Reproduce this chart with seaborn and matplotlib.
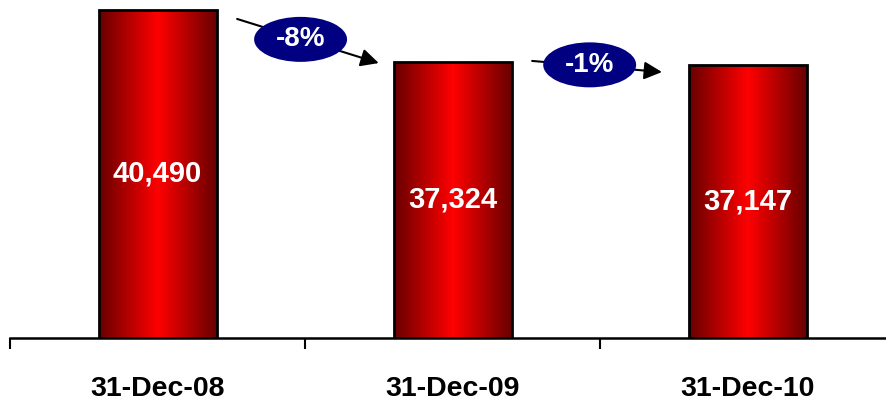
import numpy as np
import pandas as pd
import matplotlib
matplotlib.use("Agg")
import matplotlib.pyplot as plt
import seaborn as sns
from matplotlib.colors import LinearSegmentedColormap
from matplotlib.patches import Ellipse

# Year-end values
dates = ["31-Dec-08", "31-Dec-09", "31-Dec-10"]
values = [40490, 37324, 37147]
value_labels = ["40,490", "37,324", "37,147"]
changes = ["-8%", "-1%"]

sns.set_theme(style="white")
plt.rcParams["font.family"] = ["Liberation Sans", "DejaVu Sans"]

df = pd.DataFrame({"date": dates, "value": values})

fig = plt.figure(figsize=(8.87, 4.01), dpi=100)
ax = fig.add_axes([10 / 887, (401 - 338) / 401, 885 / 887, 338 / 401])

sns.barplot(data=df, x="date", y="value", width=0.40, color="red",
            edgecolor="black", linewidth=2, ax=ax, zorder=2)

y_min, y_max = 20500, 41085
ax.set_ylim(y_min, y_max)
ax.set_xlim(-0.5, 2.5)

# Horizontal dark-bright-dark shading inside each bar
shade = LinearSegmentedColormap.from_list("shade", ["#680000", "#ff0000", "#680000"])
grad = np.linspace(0, 1, 256).reshape(1, -1)
for patch in ax.patches:
    x0, w = patch.get_x(), patch.get_width()
    y0, h = patch.get_y(), patch.get_height()
    im = ax.imshow(grad, cmap=shade, aspect="auto", extent=(x0, x0 + w, y_min, y0 + h),
                   zorder=2.5, interpolation="bilinear")
    im.set_clip_path(patch)
    patch.set_facecolor("none")
    patch.set_zorder(3)

# Value labels centred in the visible part of each bar
for i, (v, lab) in enumerate(zip(values, value_labels)):
    ax.text(i, (y_min + v) / 2, lab, ha="center", va="center", color="white",
            fontsize=21, fontweight="bold", zorder=5)

# Change badges with arrows between bars
ell_w, ell_h = 0.315, 2740
arrow_ends = [((0.27, values[0] - 560), (0.75, values[1] - 80)),
              ((1.27, values[1] + 50), (1.71, values[2] - 450))]
for lab, (start, end) in zip(changes, arrow_ends):
    ax.annotate("", xy=end, xytext=start,
                arrowprops=dict(arrowstyle="-|>,head_length=0.9,head_width=0.45",
                                color="black", lw=1.5, shrinkA=0, shrinkB=0),
                zorder=6, annotation_clip=False)
    cx = (start[0] + end[0]) / 2 - 0.025
    cy = (start[1] + end[1]) / 2 + 100
    ax.add_patch(Ellipse((cx, cy), ell_w, ell_h, facecolor="#000080",
                         edgecolor="none", zorder=7, clip_on=False))
    ax.text(cx, cy, lab, ha="center", va="center", color="white",
            fontsize=20, fontweight="bold", zorder=8)

# Axis styling: only the base line with boundary ticks
for s in ["top", "right", "left"]:
    ax.spines[s].set_visible(False)
ax.spines["bottom"].set_color("black")
ax.spines["bottom"].set_linewidth(1.8)
ax.set_yticks([])
ax.set_xlabel("")
ax.set_ylabel("")
ax.set_xticks([0, 1, 2])
ax.set_xticklabels(dates, fontsize=20.5, fontweight="bold", color="black")
ax.set_xticks([-0.5, 0.5, 1.5, 2.5], minor=True)
ax.tick_params(axis="x", which="major", length=0, pad=27)
ax.tick_params(axis="x", which="minor", bottom=True, length=8, width=1.5,
               color="black", direction="out")
ax.set_facecolor("white")
fig.patch.set_facecolor("white")

fig.savefig("out.png", dpi=100, facecolor="white")
